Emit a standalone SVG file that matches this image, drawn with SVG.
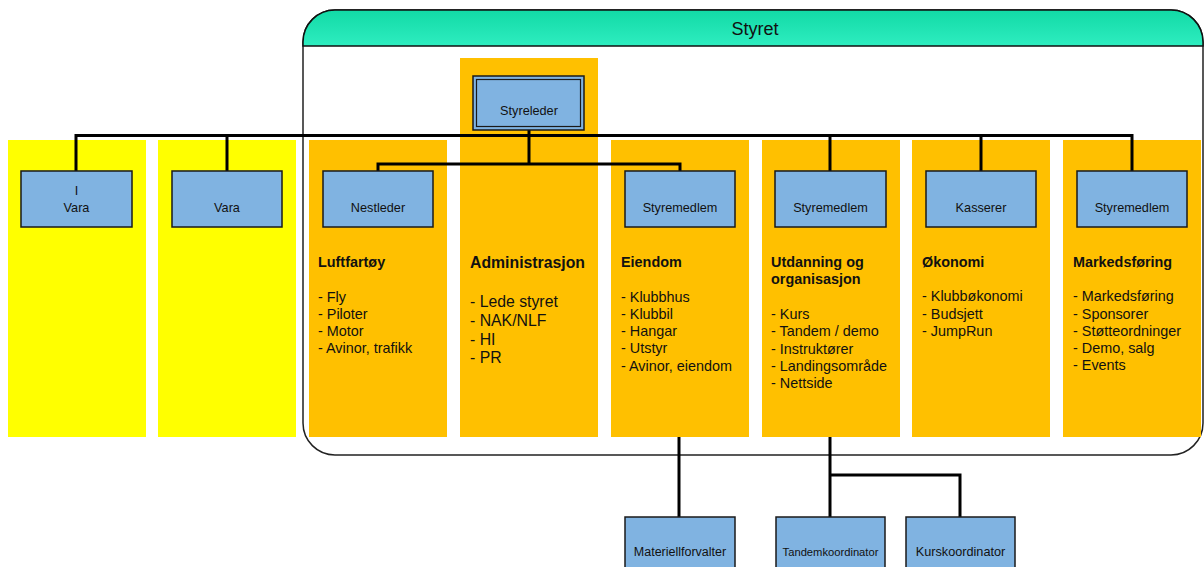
<svg xmlns="http://www.w3.org/2000/svg" width="1204" height="567" viewBox="0 0 1204 567">
<defs>
<linearGradient id="hdr" x1="0" y1="0" x2="0" y2="1">
<stop offset="0" stop-color="#12DAA6"/>
<stop offset="1" stop-color="#2EEDC0"/>
</linearGradient>
<style>
.yel{fill:#FFFF00}
.org{fill:#FFC000}
.box{fill:#80B3E1;stroke:#1a1a1a;stroke-width:1.5}
.lbl{font-family:"Liberation Sans",Arial,sans-serif;font-size:12.7px;fill:#111;text-anchor:middle}
.col{font-family:"Liberation Sans",Arial,sans-serif;font-size:14.4px;fill:#111}
.adm{font-family:"Liberation Sans",Arial,sans-serif;font-size:15.8px;fill:#111}
.b{font-weight:bold}
.conn{fill:none;stroke:#000;stroke-width:3;stroke-linejoin:miter}
</style>
</defs>
<rect width="1204" height="567" fill="#fff"/>
<g id="styret">
<rect x="303" y="10" width="900" height="445" rx="32" ry="32" fill="#fff" stroke="#222" stroke-width="1.5"/>
<path d="M303,46 V42 A32,32 0 0 1 335,10 H1171 A32,32 0 0 1 1203,42 V46 Z" fill="url(#hdr)" stroke="#111" stroke-width="1.5"/>
<text x="755" y="34.5" font-family="'Liberation Sans',Arial,sans-serif" font-size="18" fill="#111" text-anchor="middle">Styret</text>
</g>
<g id="columns">
<rect class="yel" x="8" y="140" width="138" height="297"/>
<rect class="yel" x="158" y="140" width="138" height="297"/>
<rect class="org" x="309" y="140" width="138" height="297"/>
<rect class="org" x="460" y="58" width="138" height="379"/>
<rect class="org" x="611" y="140" width="138" height="297"/>
<rect class="org" x="762" y="140" width="138" height="297"/>
<rect class="org" x="912" y="140" width="138" height="297"/>
<rect class="org" x="1063" y="140" width="138" height="297"/>
</g>
<g id="connectors">
<path class="conn" d="M76,171 V135.5 H1132 V171"/>
<path class="conn" d="M227,135.5 V171"/>
<path class="conn" d="M830,135.5 V171"/>
<path class="conn" d="M981,135.5 V171"/>
<path class="conn" d="M529,130 V164 M378,171 V164 H680 V171"/>
<path class="conn" d="M679,437 V517"/>
<path class="conn" d="M830,437 V517 M830,475 H960 V517"/>
</g>
<g id="styreleder">
<rect class="box" x="473" y="76" width="111" height="54"/>
<rect x="476.5" y="79.5" width="104" height="47" fill="none" stroke="#1a1a1a" stroke-width="1.2"/>
<text class="lbl" x="529" y="115">Styreleder</text>
</g>
<g id="vara1">
<rect class="box" x="21" y="171" width="111" height="56"/>
<text class="lbl" x="76.5" y="195">I</text>
<text class="lbl" x="76.5" y="211.5">Vara</text>
</g>
<g id="vara2">
<rect class="box" x="172" y="171" width="110" height="56"/>
<text class="lbl" x="227" y="211.5">Vara</text>
</g>
<g id="nestleder">
<rect class="box" x="323" y="171" width="110" height="56"/>
<text class="lbl" x="378" y="211.5">Nestleder</text>
</g>
<g id="styremedlem1">
<rect class="box" x="625" y="171" width="110" height="56"/>
<text class="lbl" x="680" y="211.5">Styremedlem</text>
</g>
<g id="styremedlem2">
<rect class="box" x="775" y="171" width="111" height="56"/>
<text class="lbl" x="830.5" y="211.5">Styremedlem</text>
</g>
<g id="kasserer">
<rect class="box" x="926" y="171" width="110" height="56"/>
<text class="lbl" x="981" y="211.5">Kasserer</text>
</g>
<g id="styremedlem3">
<rect class="box" x="1077" y="171" width="110" height="56"/>
<text class="lbl" x="1132" y="211.5">Styremedlem</text>
</g>
<g id="luftfartoy-text">
<text class="col b" x="318" y="266.7">Luftfartøy</text>
<text class="col" x="318" y="301.5">- Fly</text>
<text class="col" x="318" y="318.8">- Piloter</text>
<text class="col" x="318" y="336.1">- Motor</text>
<text class="col" x="318" y="353.4">- Avinor, trafikk</text>
</g>
<g id="administrasjon-text">
<text class="adm b" x="470" y="268">Administrasjon</text>
<text class="adm" x="470" y="307.3">- Lede styret</text>
<text class="adm" x="470" y="325.9">- NAK/NLF</text>
<text class="adm" x="470" y="344.5">- HI</text>
<text class="adm" x="470" y="363.1">- PR</text>
</g>
<g id="eiendom-text">
<text class="col b" x="621" y="266.5">Eiendom</text>
<text class="col" x="621" y="301.5">- Klubbhus</text>
<text class="col" x="621" y="318.8">- Klubbil</text>
<text class="col" x="621" y="336.1">- Hangar</text>
<text class="col" x="621" y="353.4">- Utstyr</text>
<text class="col" x="621" y="370.7">- Avinor, eiendom</text>
</g>
<g id="utdanning-text">
<text class="col b" x="771" y="266.7">Utdanning og</text>
<text class="col b" x="771" y="284">organisasjon</text>
<text class="col" x="771" y="319">- Kurs</text>
<text class="col" x="771" y="336.3">- Tandem / demo</text>
<text class="col" x="771" y="353.6">- Instruktører</text>
<text class="col" x="771" y="370.9">- Landingsområde</text>
<text class="col" x="771" y="388.2">- Nettside</text>
</g>
<g id="okonomi-text">
<text class="col b" x="922" y="266.5">Økonomi</text>
<text class="col" x="922" y="301.2">- Klubbøkonomi</text>
<text class="col" x="922" y="318.5">- Budsjett</text>
<text class="col" x="922" y="335.8">- JumpRun</text>
</g>
<g id="markedsforing-text">
<text class="col b" x="1073" y="266.5">Markedsføring</text>
<text class="col" x="1073" y="301.2">- Markedsføring</text>
<text class="col" x="1073" y="318.5">- Sponsorer</text>
<text class="col" x="1073" y="335.8">- Støtteordninger</text>
<text class="col" x="1073" y="353.1">- Demo, salg</text>
<text class="col" x="1073" y="370.4">- Events</text>
</g>
<g id="materiellforvalter">
<rect class="box" x="625" y="517" width="110" height="56"/>
<text class="lbl" x="680" y="556" style="font-size:12.5px">Materiellforvalter</text>
</g>
<g id="tandemkoordinator">
<rect class="box" x="776" y="517" width="109" height="56"/>
<text class="lbl" x="830.5" y="556" style="font-size:11.2px">Tandemkoordinator</text>
</g>
<g id="kurskoordinator">
<rect class="box" x="906" y="517" width="109" height="56"/>
<text class="lbl" x="960.5" y="556">Kurskoordinator</text>
</g>
</svg>
